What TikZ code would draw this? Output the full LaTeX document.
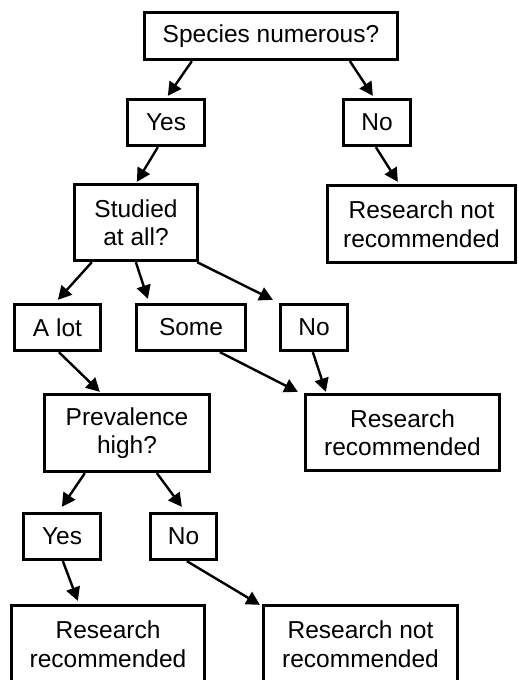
\documentclass[tikz,border=0pt]{standalone}
\usepackage{fontspec}
\setmainfont{Liberation Sans}
\usetikzlibrary{arrows.meta}
\begin{document}
\begin{tikzpicture}[x=1pt,y=-1pt,
  box/.style={draw=black,line width=3.3pt,rectangle,inner sep=0pt,align=center,
    font=\fontsize{24.5}{28.5}\selectfont},
  conn/.style={line width=2.4pt,-{Triangle[length=13.5pt,width=14pt]}}]
\useasboundingbox (0,0) rectangle (519,680);
\clip (0,0) rectangle (519,680);
\node[box,minimum width=253pt,minimum height=47pt] (sp) at (271,36) {Species numerous?};
\node[box,minimum width=77pt,minimum height=46pt] (yes1) at (166,122.5) {Yes};
\node[box,minimum width=67pt,minimum height=46pt] (no1) at (377,122.5) {No};
\node[box,minimum width=123pt,minimum height=76pt] (st) at (136,222.5) {Studied\\at all?};
\node[box,minimum width=188pt,minimum height=77pt] (rnr1) at (421.5,224) {Research not\\recommended};
\node[box,minimum width=86pt,minimum height=46pt] (alot) at (57.5,327.5) {A lot};
\node[box,minimum width=109pt,minimum height=46pt] (some) at (191,327.5) {Some};
\node[box,minimum width=67pt,minimum height=46pt] (no2) at (314,327.5) {No};
\node[box,minimum width=165pt,minimum height=77pt] (prev) at (127,433) {Prevalence\\high?};
\node[box,minimum width=194pt,minimum height=76pt] (rr1) at (402.5,432.5) {Research\\recommended};
\node[box,minimum width=77pt,minimum height=46pt] (yes3) at (62,536.5) {Yes};
\node[box,minimum width=66pt,minimum height=46pt] (no3) at (183.5,536.5) {No};
\node[box,minimum width=193pt,minimum height=77pt] (rr2) at (108,644) {Research\\recommended};
\node[box,minimum width=194pt,minimum height=77pt] (rnr2) at (360.5,644) {Research not\\recommended};

\draw[conn] ([xshift=49pt]sp.south west) -- ([xshift=42pt,yshift=2pt]yes1.north west);
\draw[conn] ([xshift=207pt]sp.south west) -- ([xshift=31pt,yshift=2pt]no1.north west);
\draw[conn] ([xshift=32pt]yes1.south west) -- ([xshift=64pt,yshift=1pt]st.north west);
\draw[conn] ([xshift=34pt]no1.south west) -- ([xshift=72pt,yshift=2pt]rnr1.north west);
\draw[conn] ([xshift=19pt]st.south west) -- ([xshift=45pt,yshift=3pt]alot.north west);
\draw[conn] ([xshift=63pt]st.south west) -- ([xshift=13pt,yshift=4pt]some.north west);
\draw[conn] ([xshift=-2pt]st.south east) -- ([xshift=-6pt,yshift=3pt]no2.north west);
\draw[conn] ([xshift=46pt]alot.south west) -- ([xshift=57pt,yshift=1pt]prev.north west);
\draw[conn] ([xshift=85pt]some.south west) -- ([xshift=-6pt,yshift=1pt]rr1.north west);
\draw[conn] ([xshift=34pt]no2.south west) -- ([xshift=22pt,yshift=1pt]rr1.north west);
\draw[conn] ([xshift=42pt]prev.south west) -- ([xshift=40pt,yshift=5pt]yes3.north west);
\draw[conn] ([xshift=114pt]prev.south west) -- ([xshift=33pt,yshift=5pt]no3.north west);
\draw[conn] ([xshift=41pt]yes3.south west) -- ([xshift=68pt,yshift=3pt]rr2.north west);
\draw[conn] ([xshift=38pt]no3.south west) -- ([xshift=-2pt,yshift=-1pt]rnr2.north west);
\end{tikzpicture}
\end{document}
